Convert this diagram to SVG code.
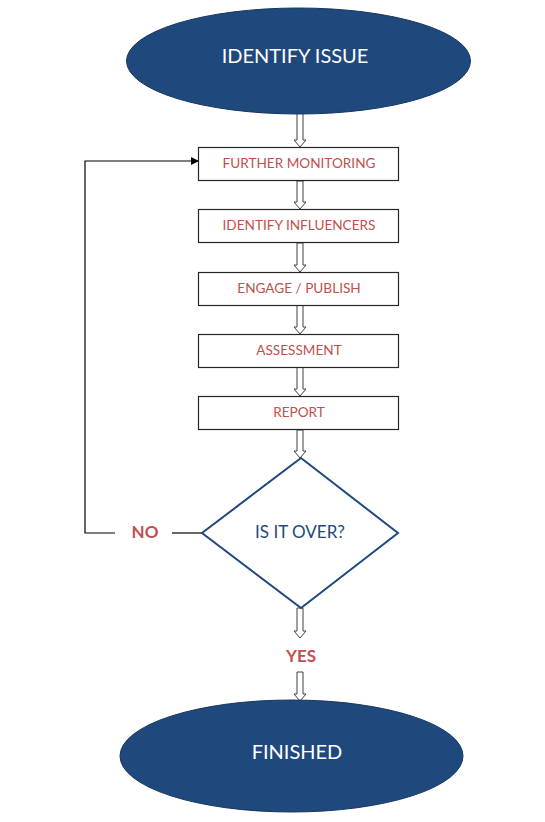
<svg xmlns="http://www.w3.org/2000/svg" width="545" height="822" viewBox="0 0 545 822">
<style>
.ell{fill:#1F497D;stroke:#16365c;stroke-width:1}
.box{fill:#fff;stroke:#262626;stroke-width:1.2}
.bt{font-family:Lato,"Open Sans",sans-serif;font-size:13.6px;fill:#C0504D;text-anchor:middle;dominant-baseline:central}
.et{font-family:Lato,"Open Sans",sans-serif;font-size:20px;fill:#fff;text-anchor:middle;dominant-baseline:central}
.lab{font-family:Lato,"Open Sans",sans-serif;font-size:17px;font-weight:bold;fill:#C0504D;text-anchor:middle;dominant-baseline:central}
.blk{fill:#fff;stroke:#404040;stroke-width:1}
.ln{fill:none;stroke:#000;stroke-width:1.2}
</style>
<defs>
<marker id="ah" markerWidth="8" markerHeight="8" refX="7" refY="4" orient="auto" markerUnits="userSpaceOnUse">
<path d="M0,0 L8,4 L0,8 Z" fill="#000"/>
</marker>
</defs>
<rect width="545" height="822" fill="#fff"/>
<g id="connectors">
<path class="blk" d="M297,113 L303,113 L303,140 L306,140 L300,147 L294,140 L297,140 Z"/>
<path class="blk" d="M297,181 L303,181 L303,202 L306,202 L300,209 L294,202 L297,202 Z"/>
<path class="blk" d="M297,243 L303,243 L303,265 L306,265 L300,272 L294,265 L297,265 Z"/>
<path class="blk" d="M297,305 L303,305 L303,327 L306,327 L300,334 L294,327 L297,327 Z"/>
<path class="blk" d="M297,367 L303,367 L303,389 L306,389 L300,396 L294,389 L297,389 Z"/>
<path class="blk" d="M297,430 L303,430 L303,451 L306,451 L300,458 L294,451 L297,451 Z"/>
<path class="blk" d="M297,608 L303,608 L303,631 L306,631 L300,638 L294,631 L297,631 Z"/>
<path class="blk" d="M297,672 L303,672 L303,694 L306,694 L300,701 L294,694 L297,694 Z"/>
<path class="ln" d="M115,533 L85,533 L85,161 L198,161" marker-end="url(#ah)"/>
<path class="ln" d="M172,533 L202,533"/>
<text class="lab" x="145" y="531">NO</text>
<text class="lab" x="301" y="655">YES</text>
</g>
<g id="identify-issue">
<ellipse class="ell" cx="298.5" cy="61" rx="172" ry="53"/>
<text class="et" x="295" y="55">IDENTIFY ISSUE</text>
</g>
<g id="further-monitoring">
<rect class="box" x="198.5" y="147.5" width="200" height="33"/>
<text class="bt" x="299" y="163">FURTHER MONITORING</text>
</g>
<g id="identify-influencers">
<rect class="box" x="198.5" y="209.5" width="200" height="33"/>
<text class="bt" x="299" y="225">IDENTIFY INFLUENCERS</text>
</g>
<g id="engage-publish">
<rect class="box" x="198.5" y="272.5" width="200" height="33"/>
<text class="bt" x="299" y="288">ENGAGE / PUBLISH</text>
</g>
<g id="assessment">
<rect class="box" x="198.5" y="334.5" width="200" height="33"/>
<text class="bt" x="299" y="350">ASSESSMENT</text>
</g>
<g id="report">
<rect class="box" x="198.5" y="396.5" width="200" height="33"/>
<text class="bt" x="299" y="412">REPORT</text>
</g>
<g id="is-it-over">
<path d="M301,458 L398,533 L301,608 L202,533 Z" fill="#fff" stroke="#1F497D" stroke-width="2"/>
<text x="300" y="531" font-family="Lato,'Open Sans',sans-serif" font-size="17" fill="#1F497D" text-anchor="middle" dominant-baseline="central">IS IT OVER?</text>
</g>
<g id="finished">
<ellipse class="ell" cx="291.5" cy="756" rx="171.5" ry="56"/>
<text class="et" x="297" y="751">FINISHED</text>
</g>
</svg>
